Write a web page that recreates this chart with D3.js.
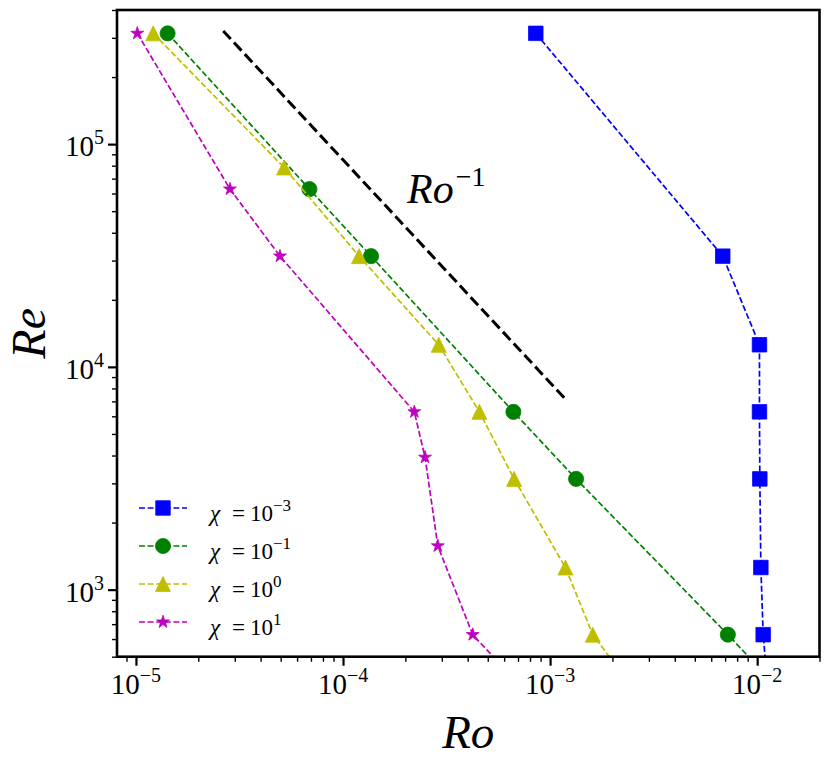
<!DOCTYPE html>
<html>
<head>
<meta charset="utf-8">
<script src="https://cdn.jsdelivr.net/npm/d3@7"></script>
<style>
	body { margin: 0; background: #fff; }
	text { font-family: "Liberation Serif", "DejaVu Serif", serif; fill: #000; }
</style>
</head>
<body>
<div id="chart"></div>
<script>
// Re values (multiples of pi)
var roBlue = [8.53e-4, 6.82e-3, 1.026e-2, 1.026e-2, 1.03e-2, 1.042e-2, 1.069e-2, 1.14e-2];
var reBlue = [314159, 31416, 12566, 6283, 3142, 1257, 628, 314];

var roGreen = [1.422e-5, 6.88e-5, 1.366e-4, 6.65e-4, 1.335e-3, 7.22e-3, 1.456e-2];
var reGreen = [314159, 62832, 31416, 6283, 3142, 628, 314];

var roYellow = [1.212e-5, 5.19e-5, 1.195e-4, 2.90e-4, 4.555e-4, 6.70e-4, 1.186e-3, 1.608e-3, 2.81e-3];
var reYellow = [314159, 78540, 31416, 12566, 6283, 3142, 1257, 628, 314];

var roMagenta = [1.015e-5, 2.845e-5, 4.96e-5, 2.21e-4, 2.49e-4, 2.87e-4, 4.23e-4, 8.46e-4];
var reMagenta = [314159, 62832, 31416, 6283, 3927, 1571, 628, 314];

// Ro^-1 guide line
var refRo = [2.64e-5, 1.2e-3];
var refRe = [3.22e5, 7.08e3];

var legendExp = ['\u22123', '\u22121', '0', '1'];
var xTickExp = [-5, -4, -3, -2];
var yTickExp = [3, 4, 5];

(function() {
	var width = 830,
		height = 761,
		left = 117,
		right = 819.5,
		top = 10,
		bottom = 656.7;

	var x = d3.scaleLog().domain([8.1e-6, 2e-2]).range([left, right]);
	var y = d3.scaleLog().domain([500, 4e5]).range([bottom, top]);

	var svg = d3.select('#chart')
		.append('svg')
		.attr('width', width)
		.attr('height', height)
		.attr('font-family', '"Liberation Serif", serif');

	svg.append('defs')
		.append('clipPath')
		.attr('id', 'plot-clip')
		.append('rect')
		.attr('x', left)
		.attr('y', top)
		.attr('width', right - left)
		.attr('height', bottom - top);

	// minor ticks: 2..9 of every decade inside the domain
	function minors(scale) {
		var d = scale.domain(), out = [];
		for (var e = Math.floor(Math.log10(d[0])); e <= Math.ceil(Math.log10(d[1])); e++) {
			for (var k = 2; k <= 9; k++) {
				var v = k * Math.pow(10, e);
				if (v >= d[0] * 0.999 && v <= d[1] * 1.001) out.push(v);
			}
		}
		return out;
	}

	var xMajor = xTickExp.map(function(e) { return Math.pow(10, e); }),
		yMajor = yTickExp.map(function(e) { return Math.pow(10, e); });

	function styleAxis(g, w) {
		g.select('.domain').remove();
		g.selectAll('.tick line').attr('stroke', '#000').attr('stroke-width', w);
	}

	svg.append('g')
		.attr('transform', 'translate(0,' + bottom + ')')
		.call(d3.axisBottom(x).tickValues(minors(x)).tickSize(5).tickFormat(''))
		.call(styleAxis, 1.4);
	svg.append('g')
		.attr('transform', 'translate(0,' + bottom + ')')
		.call(d3.axisBottom(x).tickValues(xMajor).tickSize(9).tickFormat(''))
		.call(styleAxis, 2.2);
	svg.append('g')
		.attr('transform', 'translate(' + left + ',0)')
		.call(d3.axisLeft(y).tickValues(minors(y)).tickSize(5).tickFormat(''))
		.call(styleAxis, 1.4);
	svg.append('g')
		.attr('transform', 'translate(' + left + ',0)')
		.call(d3.axisLeft(y).tickValues(yMajor).tickSize(9).tickFormat(''))
		.call(styleAxis, 2.2);

	// tick labels 10^n
	svg.selectAll('.xlab')
		.data(xTickExp)
		.enter()
		.append('text')
		.attr('class', 'xlab')
		.attr('x', function(d) { return x(Math.pow(10, d)); })
		.attr('y', 694)
		.attr('text-anchor', 'middle')
		.attr('font-size', 29)
		.each(function(d) {
			var t = d3.select(this);
			t.append('tspan').text('10');
			t.append('tspan').attr('dy', -12).attr('font-size', 20).text('\u2212' + Math.abs(d));
		});

	svg.selectAll('.ylab')
		.data(yTickExp)
		.enter()
		.append('text')
		.attr('class', 'ylab')
		.attr('x', 104)
		.attr('y', function(d) { return y(Math.pow(10, d)) + 12; })
		.attr('text-anchor', 'end')
		.attr('font-size', 29)
		.each(function(d) {
			var t = d3.select(this);
			t.append('tspan').text('10');
			t.append('tspan').attr('dy', -12).attr('font-size', 20).text(d);
		});

	// axis titles
	svg.append('text')
		.attr('x', (left + right) / 2)
		.attr('y', 748)
		.attr('text-anchor', 'middle')
		.attr('font-size', 47)
		.attr('font-style', 'italic')
		.text('Ro');

	svg.append('text')
		.attr('transform', 'translate(45,' + ((top + bottom) / 2) + ') rotate(-90)')
		.attr('text-anchor', 'middle')
		.attr('font-size', 48)
		.attr('font-style', 'italic')
		.text('Re');

	var line = d3.line()
		.x(function(d) { return x(d[0]); })
		.y(function(d) { return y(d[1]); });

	var plot = svg.append('g').attr('clip-path', 'url(#plot-clip)');

	// reference slope
	plot.append('path')
		.attr('d', line(d3.zip(refRo, refRe)))
		.attr('fill', 'none')
		.attr('stroke', '#000')
		.attr('stroke-width', 3)
		.attr('stroke-dasharray', '11,4.8');

	var ann = svg.append('text')
		.attr('x', 407)
		.attr('y', 203)
		.attr('font-size', 42);
	ann.append('tspan').attr('font-style', 'italic').text('Ro');
	ann.append('tspan').attr('dx', 2).attr('dy', -17).attr('font-size', 28).text('\u22121');

	// matplotlib-like triangle: width = height
	var triangleUp = {
		draw: function(ctx, size) {
			var h = Math.sqrt(size) / 2;
			ctx.moveTo(0, -h);
			ctx.lineTo(h, h);
			ctx.lineTo(-h, h);
			ctx.closePath();
		}
	};

	var series = [
		{ro: roBlue, re: reBlue, color: '#0000ff', symbol: d3.symbolSquare, size: 210},
		{ro: roGreen, re: reGreen, color: '#008000', symbol: d3.symbolCircle, size: 180},
		{ro: roYellow, re: reYellow, color: '#bfbf00', symbol: triangleUp, size: 225},
		{ro: roMagenta, re: reMagenta, color: '#bf00bf', symbol: d3.symbolStar, size: 52}
	];

	series.forEach(function(s) {
		var pts = d3.zip(s.ro, s.re);
		plot.append('path')
			.attr('d', line(pts))
			.attr('fill', 'none')
			.attr('stroke', s.color)
			.attr('stroke-width', 1.7)
			.attr('stroke-dasharray', '6,2.6');

		plot.selectAll(null)
			.data(pts)
			.enter()
			.append('path')
			.attr('d', d3.symbol().type(s.symbol).size(s.size))
			.attr('transform', function(d) { return 'translate(' + x(d[0]) + ',' + y(d[1]) + ')'; })
			.attr('fill', s.color)
			.attr('stroke', s.color)
			.attr('stroke-width', 0.8);
	});

	// legend
	var legend = svg.append('g').attr('transform', 'translate(139,508)');
	var rows = legend.selectAll('g')
		.data(series)
		.enter()
		.append('g')
		.attr('transform', function(d, i) { return 'translate(0,' + (i * 38) + ')'; });

	rows.append('line')
		.attr('x1', 0)
		.attr('x2', 48)
		.attr('stroke', function(d) { return d.color; })
		.attr('stroke-width', 1.7)
		.attr('stroke-dasharray', '6,2.6');

	rows.append('path')
		.attr('transform', 'translate(24,0)')
		.attr('d', function(d) { return d3.symbol().type(d.symbol).size(d.size)(); })
		.attr('fill', function(d) { return d.color; })
		.attr('stroke', function(d) { return d.color; })
		.attr('stroke-width', 0.8);

	var labels = rows.append('text')
		.attr('y', 13)
		.attr('font-size', 23);
	labels.append('tspan').attr('x', 71).attr('font-style', 'italic').text('\u03c7');
	labels.append('tspan').attr('x', 93).text('=');
	labels.append('tspan').attr('x', 111).text('10');
	labels.append('tspan')
		.attr('dy', -10)
		.attr('font-size', 17)
		.text(function(d, i) { return legendExp[i]; });

	// frame
	svg.append('rect')
		.attr('x', left)
		.attr('y', top)
		.attr('width', right - left)
		.attr('height', bottom - top)
		.attr('fill', 'none')
		.attr('stroke', '#000')
		.attr('stroke-width', 2.6);
})();
</script>
</body>
</html>
